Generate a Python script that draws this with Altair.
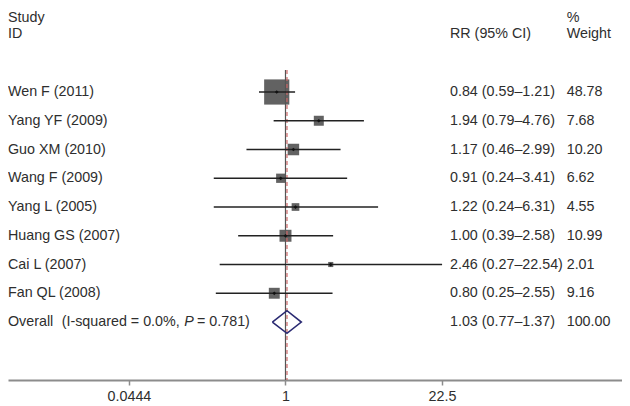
import altair as alt
import pandas as pd

# ---- data ----
studies = ["Wen F (2011)", "Yang YF (2009)", "Guo XM (2010)", "Wang F (2009)",
           "Yang L (2005)", "Huang GS (2007)", "Cai L (2007)", "Fan QL (2008)"]
rr = [0.84, 1.94, 1.17, 0.91, 1.22, 1.00, 2.46, 0.80]
ci_low = [0.59, 0.79, 0.46, 0.24, 0.24, 0.39, 0.27, 0.25]
ci_high = [1.21, 4.76, 2.99, 3.41, 6.31, 2.58, 22.54, 2.55]
weights = [48.78, 7.68, 10.20, 6.62, 4.55, 10.99, 2.01, 9.16]
rr_text = ["0.84 (0.59–1.21)", "1.94 (0.79–4.76)", "1.17 (0.46–2.99)", "0.91 (0.24–3.41)",
           "1.22 (0.24–6.31)", "1.00 (0.39–2.58)", "2.46 (0.27–22.54)", "0.80 (0.25–2.55)"]
weight_text = ["48.78", "7.68", "10.20", "6.62", "4.55", "10.99", "2.01", "9.16"]

overall_rr, overall_low, overall_high = 1.03, 0.77, 1.37
overall_rr_text = "1.03 (0.77–1.37)"
overall_weight_text = "100.00"

tick_values = [0.0444, 1, 22.5]

# row layout (row index on the y scale)
first_row = 3
study_rows = [first_row + i for i in range(len(studies))]
overall_row = first_row + len(studies)

FONT = "Liberation Sans"
FS = 14.3
TXT = "#2e2e2e"

x_scale = alt.Scale(type="log", domain=[0.004003, 808.2], nice=False, zero=False)
y_scale = alt.Scale(domain=[0.0783, 13.017], reverse=True, nice=False, zero=False)

axis = alt.Axis(values=tick_values, format="~g", title=None, grid=False,
                domain=True, domainColor="#8c8c8c", domainWidth=2,
                ticks=True, tickColor="#8c8c8c", tickSize=5, tickWidth=1.5,
                labelFont=FONT, labelFontSize=FS, labelColor=TXT, labelPadding=4,
                labelFlush=False, labelOverlap=False)


def X(field):
    return alt.X(field, scale=x_scale, axis=axis, title=None)


def Y(field):
    return alt.Y(field, scale=y_scale, axis=None, title=None)


df = pd.DataFrame({
    "study": studies, "rr": rr, "lo": ci_low, "hi": ci_high, "w": weights,
    "rr_text": rr_text, "w_text": weight_text, "row": study_rows,
})

half_h = 0.393
diamond = pd.DataFrame({
    "x": [overall_low, overall_rr, overall_high, overall_rr, overall_low],
    "row": [overall_row, overall_row - half_h, overall_row, overall_row + half_h, overall_row],
    "o": [0, 1, 2, 3, 4],
})

line_top = 2.235
line_bottom = 13.017
refs = pd.DataFrame({"x": [1.0], "y1": [line_top], "y2": [line_bottom]})
refs_overall = pd.DataFrame({"x": [overall_rr], "y1": [line_top], "y2": [line_bottom]})

base = alt.Chart(df)

squares = base.mark_square(color="#626262", opacity=1).encode(
    x=X("rr:Q"),
    y=Y("row:Q"),
    size=alt.Size("w:Q", scale=alt.Scale(domain=[0, 100], range=[0, 1300]), legend=None),
)

null_line = alt.Chart(refs).mark_rule(color="#555555", strokeWidth=1.2).encode(
    x=X("x:Q"), y=Y("y1:Q"), y2="y2:Q",
)

overall_line = alt.Chart(refs_overall).mark_rule(color="#cc6666", strokeWidth=1.2,
                                                 strokeDash=[4, 3]).encode(
    x=X("x:Q"), y=Y("y1:Q"), y2="y2:Q",
)

ci = base.mark_rule(color="#222222", strokeWidth=1.4).encode(
    x=X("lo:Q"), x2="hi:Q", y=Y("row:Q"),
)

dots = base.mark_point(shape="diamond", filled=True, color="#111111", size=14, opacity=1).encode(
    x=X("rr:Q"), y=Y("row:Q"),
)

dia = alt.Chart(diamond).mark_line(color="#2a2a72", strokeWidth=1.6).encode(
    x=X("x:Q"), y=Y("row:Q"), order="o:Q",
)


def text_layer(data, field, xpx, **kw):
    return alt.Chart(data).mark_text(align="left", baseline="middle", font=FONT,
                                     fontSize=FS, color=TXT, **kw).encode(
        x=alt.value(xpx),
        y=Y("row:Q"),
        text=f"{field}:N",
    )


study_txt = text_layer(df, "study", 0)
rr_txt = text_layer(df, "rr_text", 442)
w_txt = text_layer(df, "w_text", 558.7)

header_row0 = 0.42
headers = pd.DataFrame({
    "t": ["Study", "ID", "RR (95% CI)", "%", "Weight"],
    "row": [header_row0, 1, 1, header_row0, 1],
    "px": [0, 0, 442, 558.7, 558.7],
})
header_txt = alt.Chart(headers).mark_text(align="left", baseline="middle", font=FONT,
                                          fontSize=FS, color=TXT).encode(
    x=alt.X("px:Q", scale=None),
    y=Y("row:Q"),
    text="t:N",
)

overall_parts = pd.DataFrame({
    "t": ["Overall", "(I-squared = 0.0%,", "= 0.781)", overall_rr_text, overall_weight_text],
    "row": [overall_row] * 5,
    "px": [0, 53.7, 189.0, 442, 558.7],
})
overall_txt = alt.Chart(overall_parts).mark_text(align="left", baseline="middle", font=FONT,
                                                 fontSize=FS, color=TXT).encode(
    x=alt.X("px:Q", scale=None),
    y=Y("row:Q"),
    text="t:N",
)
p_df = pd.DataFrame({"t": ["P"], "row": [overall_row], "px": [176.3]})
p_txt = alt.Chart(p_df).mark_text(align="left", baseline="middle", font=FONT,
                                  fontSize=FS, color=TXT, fontStyle="italic").encode(
    x=alt.X("px:Q", scale=None),
    y=Y("row:Q"),
    text="t:N",
)

chart = alt.layer(
    squares, null_line, overall_line, ci, dots, dia,
    header_txt, study_txt, rr_txt, w_txt, overall_txt, p_txt,
).properties(
    width=614, height=372,
    autosize=alt.AutoSizeParams(type="none"),
    padding={"left": 0, "top": 0, "right": 0, "bottom": 24},
).configure_view(stroke=None)

chart.save("out.html", embed_options={"renderer": "svg", "actions": False})
